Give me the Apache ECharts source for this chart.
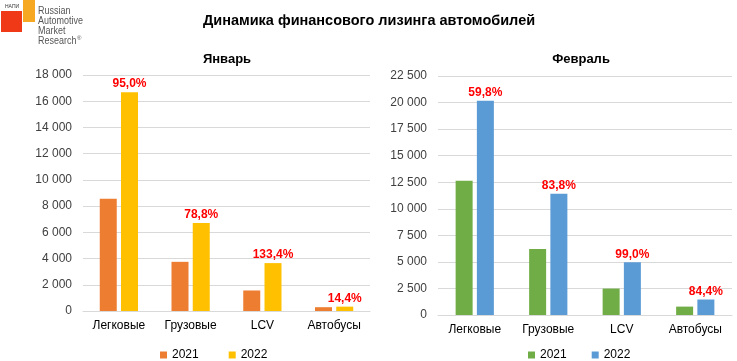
<!DOCTYPE html>
<html><head><meta charset="utf-8">
<script src="https://cdn.jsdelivr.net/npm/echarts@6/dist/echarts.min.js"></script>
<style>html,body{margin:0;padding:0;background:#fff}#c{width:737px;height:361px}</style>
</head><body><div id="c"></div>
<script>
const categories = ['Легковые', 'Грузовые', 'LCV', 'Автобусы'];
const jan2021 = [8560, 3750, 1565, 290];
const jan2022 = [16690, 6705, 3653, 332];
const janPct = ['95,0%', '78,8%', '133,4%', '14,4%'];
const feb2021 = [12630, 6210, 2490, 790];
const feb2022 = [20180, 11410, 4955, 1457];
const febPct = ['59,8%', '83,8%', '99,0%', '84,4%'];

const FONT = '"Liberation Sans", Arial, sans-serif';
const fmt = v => String(v).replace(/\B(?=(\d{3})+(?!\d))/g, ' ');
const chart = echarts.init(document.getElementById('c'), null, {renderer: 'canvas'});
const axisLabel = {fontFamily: FONT, fontSize: 12, color: '#404040'};
const pctLabel = arr => ({show: true, position: 'top', distance: 2, color: '#FF0000', fontWeight: 'bold', fontSize: 12, fontFamily: FONT, formatter: p => arr[p.dataIndex]});

chart.setOption({
  animation: false,
  textStyle: {fontFamily: FONT},
  title: [
    {text: 'Динамика финансового лизинга автомобилей', left: 364, top: 8, textAlign: 'center', textStyle: {fontFamily: FONT, fontSize: 14.5, fontWeight: 'bold', color: '#000'}},
    {text: 'Январь', left: 222, top: 48, textAlign: 'center', textStyle: {fontFamily: FONT, fontSize: 13, fontWeight: 'bold', color: '#000'}},
    {text: 'Февраль', left: 576, top: 48, textAlign: 'center', textStyle: {fontFamily: FONT, fontSize: 13, fontWeight: 'bold', color: '#000'}}
  ],
  legend: [
    {data: ['J2021', 'J2022'], left: 155, top: 344, icon: 'rect', itemWidth: 7, itemHeight: 7, itemGap: 30, formatter: n => n.slice(1), textStyle: {fontFamily: FONT, fontSize: 12, color: '#000'}},
    {data: ['F2021', 'F2022'], left: 523, top: 344, icon: 'rect', itemWidth: 7, itemHeight: 7, itemGap: 25, formatter: n => n.slice(1), textStyle: {fontFamily: FONT, fontSize: 12, color: '#000'}}
  ],
  grid: [
    {left: 83, right: 367, top: 75, bottom: 50},
    {left: 438, right: 5, top: 76, bottom: 46}
  ],
  xAxis: [
    {type: 'category', gridIndex: 0, data: categories, axisTick: {show: false}, axisLine: {lineStyle: {color: '#D9D9D9'}}, axisLabel: Object.assign({}, axisLabel, {margin: 9, color: '#000'})},
    {type: 'category', gridIndex: 1, data: categories, axisTick: {show: false}, axisLine: {lineStyle: {color: '#D9D9D9'}}, axisLabel: Object.assign({}, axisLabel, {margin: 9, color: '#000'})}
  ],
  yAxis: [
    {type: 'value', gridIndex: 0, min: 0, max: 18000, interval: 2000, axisLabel: Object.assign({}, axisLabel, {formatter: fmt, margin: 11}), splitLine: {lineStyle: {color: '#D9D9D9'}}},
    {type: 'value', gridIndex: 1, min: 0, max: 22500, interval: 2500, axisLabel: Object.assign({}, axisLabel, {formatter: fmt, margin: 11}), splitLine: {lineStyle: {color: '#D9D9D9'}}}
  ],
  series: [
    {name: 'J2021', type: 'bar', xAxisIndex: 0, yAxisIndex: 0, data: jan2021, barWidth: 17, barGap: '25%', itemStyle: {color: '#ED7D31'}},
    {name: 'J2022', type: 'bar', xAxisIndex: 0, yAxisIndex: 0, data: jan2022, barWidth: 17, barGap: '25%', itemStyle: {color: '#FFC000'}, label: pctLabel(janPct)},
    {name: 'F2021', type: 'bar', xAxisIndex: 1, yAxisIndex: 1, data: feb2021, barWidth: 17, barGap: '25%', itemStyle: {color: '#70AD47'}},
    {name: 'F2022', type: 'bar', xAxisIndex: 1, yAxisIndex: 1, data: feb2022, barWidth: 17, barGap: '25%', itemStyle: {color: '#5B9BD5'}, label: pctLabel(febPct)}
  ],
  graphic: [
    {type: 'rect', left: 1, top: 11, shape: {width: 21, height: 21}, style: {fill: '#F03A17'}},
    {type: 'rect', left: 23, top: 0, shape: {width: 12, height: 22}, style: {fill: '#F7A823'}},
    {type: 'text', left: 5, top: 4, style: {text: 'НАПИ', fontSize: 5, fill: '#333', fontFamily: FONT}},
    {type: 'text', x: 38, y: 6, scaleX: 0.78, style: {text: 'Russian\nAutomotive\nMarket\nResearch', fontSize: 11.5, lineHeight: 10, fill: '#555', fontFamily: FONT}},
    {type: 'text', x: 77, y: 35, style: {text: '®', fontSize: 6, fill: '#555', fontFamily: FONT}}
  ]
});
</script></body></html>
